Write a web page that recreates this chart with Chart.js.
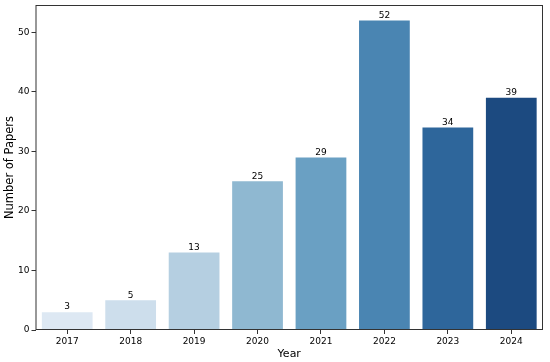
<!DOCTYPE html>
<html lang="en">
<head>
    <meta charset="UTF-8">
    <title>Number of Papers per Year</title>
    <script src="https://cdn.jsdelivr.net/npm/chart.js"></script>
    <style>
        html, body { margin: 0; padding: 0; background: #ffffff; }
        #wrap { width: 550px; height: 362px; position: relative; }
    </style>
</head>
<body>
    <div id="wrap"><canvas id="grafico"></canvas></div>

    <script>
        const anos = ["2017", "2018", "2019", "2020", "2021", "2022", "2023", "2024"];
        const papers = [3, 5, 13, 25, 29, 52, 34, 39];
        const cores = ["#dde8f3", "#cddeec", "#b5cfe1", "#8fb8d1", "#6aa0c3", "#4a85b2", "#2e669b", "#1c4a80"];
        const yTicks = [0, 10, 20, 30, 40, 50];

        const fonte = "'DejaVu Sans', sans-serif";

        // moldura completa em volta da área do gráfico
        const moldura = {
            id: "moldura",
            afterDraw(chart) {
                const { ctx, chartArea: a } = chart;
                ctx.save();
                ctx.strokeStyle = "#333333";
                ctx.lineWidth = 1;
                ctx.strokeRect(a.left + 0.5, a.top + 0.5, a.right - a.left - 1, a.bottom - a.top - 1);
                ctx.restore();
            }
        };

        // rótulos com o valor em cima de cada barra
        const rotulos = {
            id: "rotulos",
            afterDatasetsDraw(chart) {
                const { ctx } = chart;
                const meta = chart.getDatasetMeta(0);
                ctx.save();
                ctx.font = "9px " + fonte;
                ctx.fillStyle = "#000000";
                ctx.textAlign = "center";
                ctx.textBaseline = "bottom";
                meta.data.forEach((bar, i) => {
                    ctx.fillText(papers[i], bar.x, bar.y - 0.5);
                });
                ctx.restore();
            }
        };

        new Chart(document.getElementById("grafico"), {
            type: "bar",
            data: {
                labels: anos,
                datasets: [{
                    data: papers,
                    backgroundColor: cores,
                    borderWidth: 0,
                    categoryPercentage: 1.0,
                    barPercentage: 0.8
                }]
            },
            options: {
                responsive: true,
                maintainAspectRatio: false,
                animation: false,
                layout: { padding: { top: 5, right: 7, left: 0, bottom: 0 } },
                plugins: {
                    legend: { display: false },
                    tooltip: { enabled: false }
                },
                scales: {
                    x: {
                        grid: { offset: false, drawOnChartArea: false, drawTicks: true, tickLength: 4, color: "#333333" },
                        border: { display: false },
                        ticks: { color: "#000000", font: { family: fonte, size: 9 }, padding: 2, maxRotation: 0 },
                        title: { display: true, text: "Year", color: "#000000", font: { family: fonte, size: 11 }, padding: { top: 0, bottom: 1 } },
                        afterFit(scale) { scale.height = 32; scale.paddingLeft = 0; scale.paddingRight = 0; }
                    },
                    y: {
                        min: 0,
                        max: 54.6,
                        afterBuildTicks(scale) { scale.ticks = yTicks.map(v => ({ value: v })); },
                        grid: { drawOnChartArea: false, drawTicks: true, tickLength: 4, color: "#333333" },
                        border: { display: false },
                        ticks: { color: "#000000", font: { family: fonte, size: 9 }, padding: 2 },
                        title: { display: true, text: "Number of Papers", color: "#000000", font: { family: fonte, size: 11.5 }, padding: { top: 3, bottom: 1 } },
                        afterFit(scale) { scale.width = 35.5; scale.paddingTop = 0; scale.paddingBottom = 0; }
                    }
                }
            },
            plugins: [moldura, rotulos]
        });
    </script>
</body>
</html>
